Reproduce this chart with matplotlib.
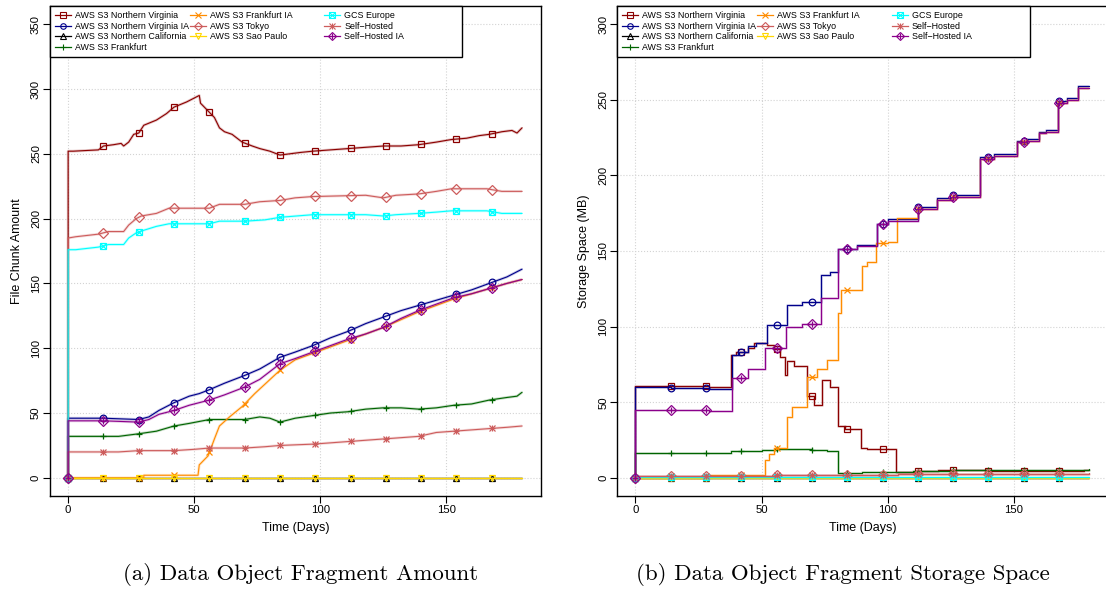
import numpy as np
import matplotlib
matplotlib.use('Agg')
import matplotlib.pyplot as plt

plt.rcParams['font.family'] = ['Liberation Sans', 'DejaVu Sans']

# Series names (legend order)
names = ['AWS S3 Northern Virginia', 'AWS S3 Northern Virginia IA', 'AWS S3 Northern California',
         'AWS S3 Frankfurt', 'AWS S3 Frankfurt IA', 'AWS S3 Tokyo', 'AWS S3 Sao Paulo',
         'GCS Europe', 'Self\u2212Hosted', 'Self\u2212Hosted IA']

# Days where the markers sit
marker_days = [0, 14, 28, 42, 56, 70, 84, 98, 112, 126, 140, 154, 168]

# ---- (a) file chunk amount ----
a_nv_days = [0, 0, 2, 12, 14, 18, 21, 22, 24, 26, 28, 30, 35, 39, 42, 47, 52, 52.5, 55, 58, 60, 62, 65,
             69, 73, 76, 80, 84, 88, 92, 97, 104, 111, 118, 125, 132, 139, 146, 152, 158, 163, 167, 172,
             176, 178, 180]
a_nv_vals = [0, 252, 252, 253, 256, 257, 258, 256, 259, 265, 266, 272, 276, 281, 286, 290, 295, 289, 284,
             278, 270, 267, 265, 259, 256, 254, 252, 249, 250, 251, 252, 253, 254, 255, 256, 256, 257, 259,
             261, 262, 264, 265, 267, 268, 266, 270]
a_nvia_days = [0, 0, 14, 28, 32, 36, 42, 48, 52, 56, 62, 70, 76, 84, 90, 97, 104, 111, 118, 125, 132,
               139, 146, 153, 160, 167, 174, 180]
a_nvia_vals = [0, 46, 46, 45, 47, 52, 58, 63, 65, 68, 73, 79, 84, 93, 97, 102, 108, 113, 119, 124, 129,
               133, 137, 141, 145, 150, 155, 161]
a_ncal_days = [0, 180]
a_ncal_vals = [0, 0]
a_fra_days = [0, 0, 14, 20, 28, 35, 42, 48, 56, 62, 70, 76, 80, 84, 90, 97, 104, 111, 118, 125, 132, 139,
              146, 153, 160, 167, 174, 178, 180]
a_fra_vals = [0, 32, 32, 32, 34, 36, 40, 42, 45, 45, 45, 47, 46, 43, 46, 48, 50, 51, 53, 54, 54, 53, 54,
              56, 57, 60, 62, 63, 66]
a_fraia_days = [0, 30, 30, 51.5, 52, 55.5, 58, 60, 64, 69, 74, 79, 84, 90, 97, 104, 111, 118, 125, 132,
                139, 146, 153, 160, 167, 174, 180]
a_fraia_vals = [0, 0, 2, 2, 10, 17, 30, 40, 47, 55, 65, 74, 83, 91, 96, 101, 106, 111, 116, 122, 128, 133,
                138, 142, 146, 150, 153]
a_tok_days = [0, 0, 3, 12, 16, 22, 24, 27, 29, 35, 40, 56, 60, 70, 76, 84, 90, 97, 118, 125, 130, 139,
              146, 152, 166, 172, 180]
a_tok_vals = [0, 185, 186, 188, 190, 190, 195, 200, 202, 204, 208, 208, 211, 211, 213, 214, 216, 217, 218,
              216, 218, 219, 221, 223, 223, 221, 221]
a_sao_days = [0, 180]
a_sao_vals = [0, 0]
a_gcs_days = [0, 0, 3, 12, 16, 22, 24, 27, 30, 35, 40, 56, 60, 70, 78, 84, 97, 118, 125, 130, 139, 146,
              152, 166, 172, 180]
a_gcs_vals = [0, 176, 176, 178, 180, 180, 185, 189, 191, 194, 196, 196, 198, 198, 199, 201, 203, 203, 202,
              203, 204, 205, 206, 206, 204, 204]
a_sh_days = [0, 0, 14, 20, 28, 42, 50, 56, 70, 78, 84, 97, 111, 125, 132, 139, 146, 153, 167, 174, 180]
a_sh_vals = [0, 20, 20, 20, 21, 21, 22, 23, 23, 24, 25, 26, 28, 30, 31, 32, 35, 36, 38, 39, 40]
a_shia_days = [0, 0, 14, 28, 32, 36, 42, 48, 56, 62, 70, 76, 80, 84, 90, 97, 104, 111, 118, 125, 132, 139,
               146, 153, 160, 167, 174, 180]
a_shia_vals = [0, 44, 44, 43, 45, 49, 52, 56, 60, 64, 70, 76, 82, 88, 92, 97, 102, 107, 111, 116, 123, 129,
               134, 139, 142, 146, 150, 153]

# ---- (b) storage space (MB), step curves ----
b_nv_days = [0, 0, 29, 38, 40, 44.5, 47, 52, 55, 57.5, 59.5, 60, 63, 68, 71, 74, 77, 80.5, 83, 89.5, 92,
             103.5, 112, 120, 126, 140, 168, 178, 180]
b_nv_vals = [0, 61, 60, 81, 83, 86, 89, 88, 85, 80, 68, 77, 74, 54, 48, 65, 60, 34, 32, 20, 19, 4, 4.5, 5,
             5.3, 4.5, 4.5, 5, 5]
b_nvia_days = [0, 0, 14, 29, 38.2, 41, 44.6, 48, 52.1, 60, 66, 73.4, 77, 80.5, 88, 95.7, 100, 112, 119.6,
               126, 136.5, 142, 151.3, 155, 159.9, 163, 167.6, 171, 175.4, 180]
b_nvia_vals = [0, 60, 59.5, 59, 81, 83, 87, 89, 101, 114, 116.5, 134, 136, 151, 154, 168, 171, 179, 185,
               187, 212, 214, 223, 224, 229, 230, 249, 251, 259, 259]
b_ncal_days = [0, 180]
b_ncal_vals = [0, 0]
b_fra_days = [0, 0, 30, 38, 50, 56, 70, 76, 80.5, 90, 110, 126, 150, 170, 178, 180]
b_fra_vals = [0, 16.5, 16.5, 17.5, 18.5, 19, 18.5, 18, 3.5, 4, 4.5, 5, 5, 5.3, 5.5, 6]
b_fraia_days = [0, 29.6, 51.5, 53, 55, 60, 62, 68.2, 72, 76, 80.5, 81.5, 89.8, 92, 95.5, 100, 103.9, 112,
                119.6, 126, 136.5, 142, 151.3, 155, 159.9, 163, 167.6, 171, 175.4, 180]
b_fraia_vals = [0, 2, 12, 16, 19.5, 40, 47, 67, 72, 78, 109, 124, 140, 143, 155, 156, 172, 178, 184, 186,
                211, 213, 222, 223, 228, 229, 248, 250, 258, 258]
b_tok_days = [0, 0, 56, 104, 180]
b_tok_vals = [0, 1.2, 1.8, 2.8, 3.0]
b_sao_days = [0, 180]
b_sao_vals = [0, 0]
b_gcs_days = [0, 0, 180]
b_gcs_vals = [0, 0.3, 0.5]
b_sh_days = [0, 0, 56, 104, 180]
b_sh_vals = [0, 1.5, 1.8, 2.3, 2.5]
b_shia_days = [0, 0, 14, 29, 38.2, 44.6, 51.5, 59.6, 66, 73.4, 80.5, 88, 95.7, 100, 112, 119.6, 126, 136.5,
               142, 151.3, 155, 159.9, 163, 167.6, 171, 175.4, 180]
b_shia_vals = [0, 45, 45, 44.5, 66, 72, 86, 100, 102, 119, 151, 153, 168, 170, 178, 184, 186, 211, 213, 222,
               223, 228, 229, 248, 250, 258, 258]

a_data = [(a_nv_days, a_nv_vals), (a_nvia_days, a_nvia_vals), (a_ncal_days, a_ncal_vals),
          (a_fra_days, a_fra_vals), (a_fraia_days, a_fraia_vals), (a_tok_days, a_tok_vals),
          (a_sao_days, a_sao_vals), (a_gcs_days, a_gcs_vals), (a_sh_days, a_sh_vals),
          (a_shia_days, a_shia_vals)]
b_data = [(b_nv_days, b_nv_vals), (b_nvia_days, b_nvia_vals), (b_ncal_days, b_ncal_vals),
          (b_fra_days, b_fra_vals), (b_fraia_days, b_fraia_vals), (b_tok_days, b_tok_vals),
          (b_sao_days, b_sao_vals), (b_gcs_days, b_gcs_vals), (b_sh_days, b_sh_vals),
          (b_shia_days, b_shia_vals)]

# R-ish colours and pch symbols (second marker for the composite ones)
colors = ['#8B0000', '#00008B', '#000000', '#006400', '#FF8C00', '#CD5C5C', '#FFD700', '#00FFFF',
          '#CD5C5C', '#8B008B']
markers = [('s', None), ('o', None), ('^', None), ('+', None), ('x', None), ('D', None), ('v', None),
           ('s', 'x'), ('+', 'x'), ('D', '+')]


def value_at(days, vals, d, steps):
    '''value of a series at day d (marker positions)'''
    if d == 0:
        return vals[0]
    if steps:
        idx = np.searchsorted(days, d, side='right') - 1
        return vals[idx]
    return np.interp(d, days[1:], vals[1:])


def draw_panel(ax, data, steps, ymax, ylabel):
    handles = []
    ds = 'steps-post' if steps else 'default'
    for i, (days, vals) in enumerate(data):
        c = colors[i]
        m1, m2 = markers[i]
        # soft wide underlay plus thin line on top
        ax.plot(days, vals, color=c, lw=2.0, alpha=0.22, drawstyle=ds, solid_capstyle='butt')
        ax.plot(days, vals, color=c, lw=0.8, drawstyle=ds)
        my = [value_at(days, vals, d, steps) for d in marker_days]
        ax.plot(marker_days, my, ls='none', marker=m1, ms=4.8, mew=0.9, mfc='none', mec=c)
        h = [ax.plot([], [], color=c, lw=0.9, marker=m1, ms=4.0, mew=0.8, mfc='none', mec=c)[0]]
        if m2 is not None:
            ax.plot(marker_days, my, ls='none', marker=m2, ms=4.8, mew=0.9, color=c)
            h.append(ax.plot([], [], ls='none', marker=m2, ms=4.0, mew=0.8, color=c)[0])
        handles.append(tuple(h))

    ax.set_xlim(-7.2, 187.4)
    ax.set_ylim(-ymax * 0.04, ymax * 1.04)
    ax.set_xticks([0, 50, 100, 150])
    ax.set_yticks(np.arange(0, ymax + 1, 50))
    ax.grid(color='#D3D3D3', linestyle=':', lw=0.8)
    ax.set_axisbelow(True)
    ax.tick_params(direction='out', length=5, width=0.8, labelsize=8.2, pad=1.5)
    plt.setp(ax.get_yticklabels(), rotation=90, va='center')
    for s in ax.spines.values():
        s.set_linewidth(1.0)
    ax.set_xlabel('Time (Days)', fontsize=9, labelpad=5)
    ax.set_ylabel(ylabel, fontsize=9, labelpad=6)

    leg = ax.legend(handles, names, loc='upper left', bbox_to_anchor=(0, 1), borderaxespad=0, ncol=3,
                    fontsize=6.4, fancybox=False, edgecolor='black', framealpha=1, handlelength=1.8,
                    handletextpad=0.45, columnspacing=0.2, labelspacing=0.2, borderpad=0.55,
                    handler_map={tuple: matplotlib.legend_handler.HandlerTuple(ndivide=1)})
    leg.get_frame().set_linewidth(1.0)
    # R draws legend columns with equal width
    for col in leg._legend_handle_box.get_children():
        col.align = 'left'
        col.width = 133
    return ax


fig = plt.figure(figsize=(11.06, 5.92), dpi=100)
ax1 = fig.add_axes([50 / 1106, 1 - 496 / 592, 490.7 / 1106, 490 / 592])
ax2 = fig.add_axes([617.3 / 1106, 1 - 496 / 592, 490.7 / 1106, 490 / 592])

draw_panel(ax1, a_data, False, 350, 'File Chunk Amount')
draw_panel(ax2, b_data, True, 300, 'Storage Space (MB)')

fig.text(301 / 1106, 1 - 575 / 592, '(a) Data Object Fragment Amount', ha='center', va='center',
         family='cmr10', fontsize=16.5)
fig.text(843 / 1106, 1 - 575 / 592, '(b) Data Object Fragment Storage Space', ha='center', va='center',
         family='cmr10', fontsize=16.5)

fig.savefig('out.png', dpi=100)
